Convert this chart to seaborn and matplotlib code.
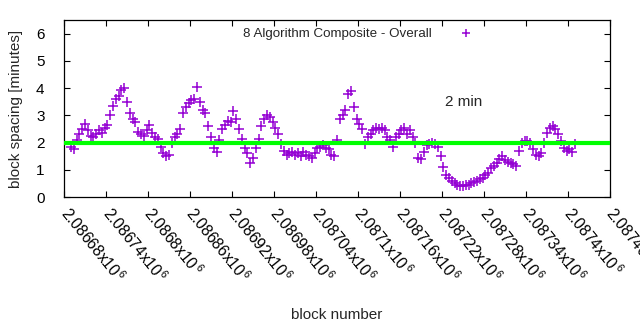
import numpy as np
import pandas as pd
import matplotlib
matplotlib.use("Agg")
import matplotlib.pyplot as plt
import matplotlib.transforms as mtransforms
import seaborn as sns

# ---- data ----
block_start = 2086690
block_step = 4
spacing_minutes = [
    1.82, 1.78, 2.10, 2.30, 2.50, 2.70, 2.45, 2.25, 2.20, 2.30,
    2.45, 2.35, 2.55, 2.65, 3.00, 3.35, 3.60, 3.70, 3.95, 4.00,
    3.50, 3.10, 2.85, 2.75, 2.40, 2.30, 2.25, 2.45, 2.65, 2.35,
    2.20, 2.15, 1.85, 1.60, 1.50, 1.55, 2.00, 2.20, 2.30, 2.50,
    3.10, 3.30, 3.45, 3.55, 3.60, 4.05, 3.50, 3.20, 3.10, 2.60,
    2.20, 1.80, 1.65, 2.10, 2.50, 2.65, 2.80, 2.75, 3.15, 2.85,
    2.50, 2.15, 1.80, 1.60, 1.25, 1.45, 1.80, 2.15, 2.60, 2.85,
    3.00, 2.95, 2.75, 2.55, 2.30, 1.95, 1.70, 1.55, 1.60, 1.65,
    1.55, 1.60, 1.50, 1.65, 1.55, 1.50, 1.45, 1.60, 1.80, 1.85,
    1.90, 1.80, 1.75, 1.55, 1.50, 2.10, 2.85, 3.00, 3.20, 3.80,
    3.90, 3.30, 2.85, 2.70, 2.50, 1.95, 2.20, 2.30, 2.45, 2.55,
    2.50, 2.55, 2.45, 2.20, 2.10, 1.85, 2.20, 2.30, 2.45, 2.55,
    2.30, 2.45, 2.20, 2.00, 1.45, 1.40, 1.65, 1.90, 1.95, 2.00,
    1.95, 1.85, 1.50, 1.10, 0.80, 0.70, 0.60, 0.50, 0.45, 0.42,
    0.40, 0.45, 0.45, 0.50, 0.55, 0.60, 0.65, 0.70, 0.80, 0.90,
    1.05, 1.15, 1.25, 1.40, 1.50, 1.35, 1.30, 1.25, 1.20, 1.15,
    1.70, 2.00, 2.05, 2.05, 2.00, 1.75, 1.55, 1.50, 1.60, 2.00,
    2.35, 2.55, 2.60, 2.50, 2.30, 2.05, 1.80, 1.70, 1.75, 1.65,
    1.95,
]
blocks = block_start + block_step * np.arange(len(spacing_minutes))

target_minutes = 2
series_label = "8 Algorithm Composite - Overall"
annotation = "2 min"
annotation_pos = (2087225, 3.5)

tick_values = [2086680 + 60 * k for k in range(14)]
tick_labels = ["2.08668", "2.08674", "2.0868", "2.08686", "2.08692", "2.08698",
               "2.08704", "2.0871", "2.08716", "2.08722", "2.08728", "2.08734",
               "2.0874", "2.08746"]
y_ticks = [0, 1, 2, 3, 4, 5, 6]

df = pd.DataFrame({"block": blocks, "spacing": spacing_minutes})

# ---- style ----
sns.set_style("ticks")
plt.rcParams["font.family"] = ["Liberation Sans", "DejaVu Sans"]
plt.rcParams["mathtext.fontset"] = "custom"
plt.rcParams["mathtext.rm"] = "Liberation Sans"
plt.rcParams["font.size"] = 10

fig = plt.figure(figsize=(6.4, 3.3), dpi=100)
ax = fig.add_axes([0.1, 0.403, 0.853, 0.536])

sns.scatterplot(data=df, x="block", y="spacing", marker="+", color="#9400d3",
                s=48, linewidth=1.1, ax=ax, label=series_label, zorder=3)
ax.axhline(target_minutes, color="#00ff00", lw=3.0, zorder=4)

ax.set_xlim(2086680, 2087460)
ax.set_ylim(0, 6.5)
ax.set_xticks(tick_values)
ax.set_xticklabels([f"{t}x10$^{{\\,6}}$" for t in tick_labels], rotation=-51,
                   ha="left", va="center", rotation_mode="anchor", fontsize=11.2)
offset = mtransforms.ScaledTranslation(1 / 72, 0, fig.dpi_scale_trans)
for lab in ax.get_xticklabels():
    lab.set_transform(lab.get_transform() + offset)
ax.set_yticks(y_ticks)
ax.set_yticklabels([str(v) for v in y_ticks], fontsize=11)
ax.tick_params(axis="both", direction="in", length=4, width=0.8, top=True,
               right=True, colors="black")
ax.tick_params(axis="y", pad=14)
ax.tick_params(axis="x", pad=9)
for sp in ax.spines.values():
    sp.set_linewidth(0.9)
    sp.set_color("black")

ax.set_xlabel("block number", fontsize=11)
ax.xaxis.set_label_coords(0.5, -0.625)
ax.set_ylabel("block spacing [minutes]", fontsize=11)
ax.yaxis.set_label_coords(-0.075, 0.5)

ax.text(annotation_pos[0], annotation_pos[1], annotation, fontsize=11,
        ha="left", va="center")

leg = ax.legend(loc="upper right", bbox_to_anchor=(0.775, 1.0), frameon=False,
                markerfirst=False, handletextpad=1.6, fontsize=9.6,
                borderaxespad=0.15)
for h in leg.legend_handles:
    h.set_sizes([40])

fig.savefig("out.png", dpi=100)
